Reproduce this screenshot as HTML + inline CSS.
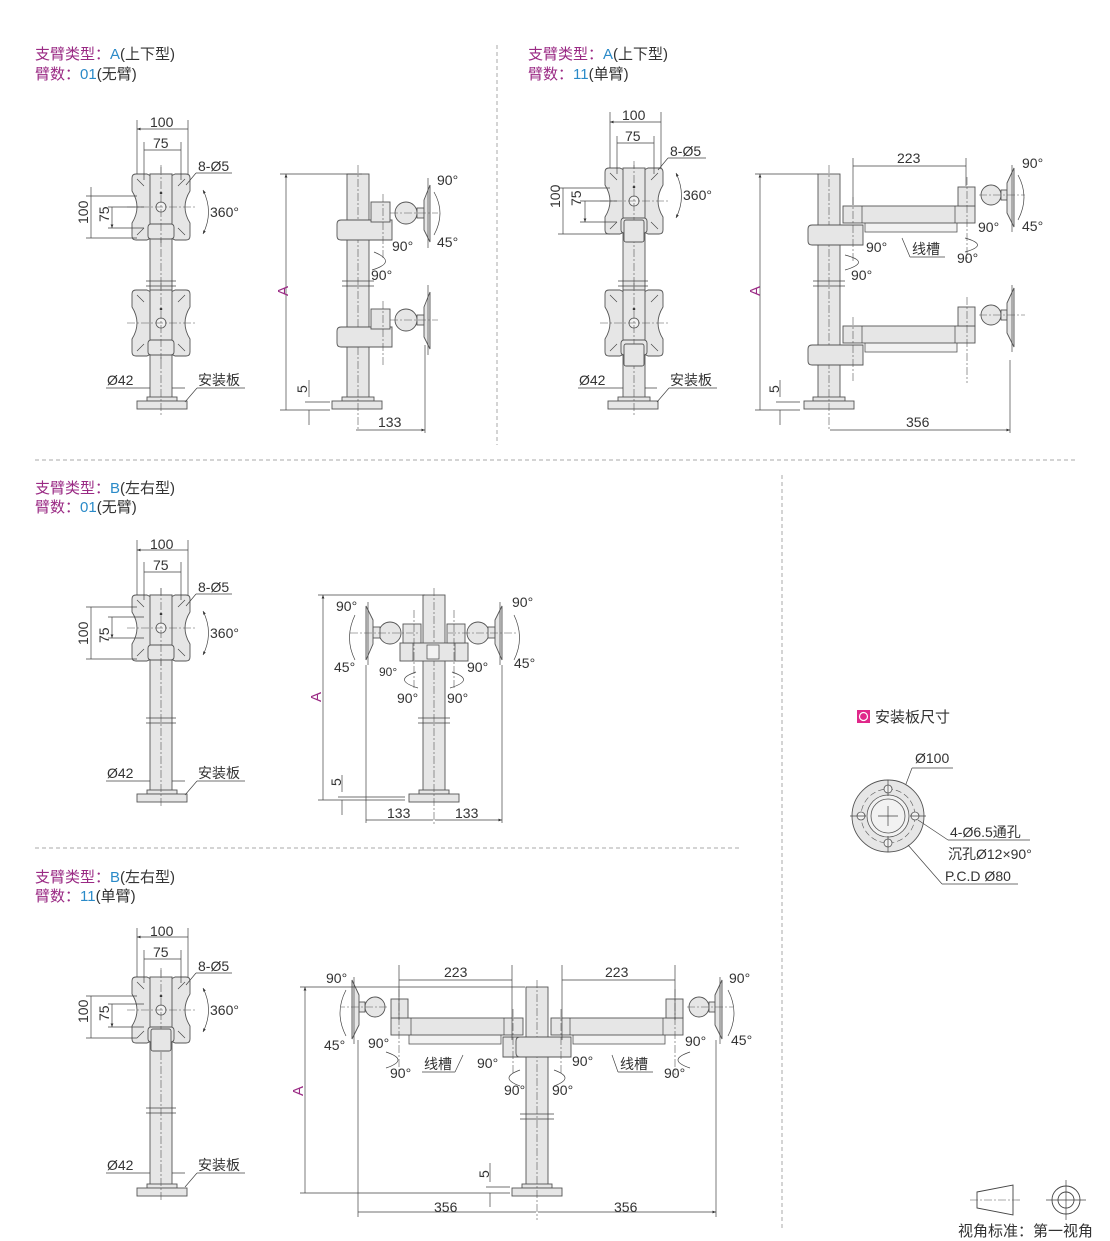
<!DOCTYPE html>
<html><head><meta charset="utf-8"><style>
html,body{margin:0;padding:0;background:#fff;}
svg{display:block;font-family:"Liberation Sans","Noto Sans CJK SC",sans-serif;}
.g{fill:#e6e6e6;stroke:#555;stroke-width:0.9}
.gl{fill:#f2f2f2;stroke:#555;stroke-width:0.8}
.c{stroke:#555;stroke-width:0.6;stroke-dasharray:8 2 2 2;fill:none}
.d{stroke:#444;stroke-width:0.7;fill:none}
.da{stroke:#444;stroke-width:0.7;fill:none;marker-start:url(#a);marker-end:url(#a)}
.t{font-size:14px;fill:#333}
.h{font-size:15px;fill:#333}
.sep{stroke:#aaa;stroke-width:1;stroke-dasharray:4 3}
.m{fill:#9a2a84}.b{fill:#2a8ac8}
</style></head><body>
<svg width="1110" height="1241" viewBox="0 0 1110 1241" xmlns="http://www.w3.org/2000/svg">
<defs>
<marker id="a" viewBox="0 0 10 10" refX="10" refY="5" markerWidth="7" markerHeight="5" orient="auto-start-reverse"><path d="M0,1 L10,5 L0,9Z" fill="#333"/></marker>
<g id="fp">
<path class="g" d="M-25,-33 L-14,-33 Q0,-25 14,-33 L25,-33 Q29,-33 29,-29 L29,-16 Q19,0 29,16 L29,29 Q29,33 25,33 L14,33 Q0,25 -14,33 L-25,33 Q-29,33 -29,29 L-29,16 Q-19,0 -29,-16 L-29,-29 Q-29,-33 -25,-33Z"/>
<rect class="g" x="-11" y="-33" width="22" height="50"/>
<circle class="gl" cx="0" cy="0" r="5"/><circle cx="0" cy="-14" r="1.3" fill="#333"/>
<path class="d" d="M-24,-28 L-17,-21 M24,-28 L17,-21 M-24,28 L-17,21 M24,28 L17,21"/>
<rect class="g" x="-13" y="17" width="26" height="15" rx="3"/>
<path class="c" d="M0,-40 V40 M-34,0 H34"/>
</g>
<g id="sh">
<path class="g" d="M-17,-10 H34 V10 H-17 Q-21,10 -21,6 V-6 Q-21,-10 -17,-10Z"/>
<rect class="g" x="13" y="-28" width="19" height="20"/>
<circle class="g" cx="48" cy="-17" r="11"/>
<rect class="g" x="59" y="-22" width="7" height="10"/>
<path class="g" d="M66,-30 L72,-45 L72,12 L66,0Z"/>
<path class="d" d="M70,-52 V18"/>
<path class="c" d="M25,-36 V30 M32,-17 H80"/>
</g>
<g id="la">
<path class="g" d="M-17,-10 H34 V10 H-17 Q-21,10 -21,6 V-6 Q-21,-10 -17,-10Z"/>
<rect class="gl" x="36" y="-13" width="92" height="10"/>
<rect class="g" x="14" y="-29" width="132" height="17"/>
<path class="d" d="M33,-29 V-12 M126,-29 V-12"/>
<rect class="g" x="129" y="-48" width="17" height="19"/>
<circle class="g" cx="162" cy="-40" r="10"/>
<rect class="g" x="172" y="-45" width="6" height="10"/>
<path class="g" d="M178,-52 L185,-67 L185,-8 L178,-22Z"/>
<path class="d" d="M183,-70 V-3"/>
<path class="c" d="M24,-38 V28 M138,-58 V28 M150,-40 H196"/>
</g>
</defs>

<path class="sep" d="M497,45 V445 M35,460 H1075 M782,475 V1230 M35,848 H740"/>

<text x="35" y="59" class="h"><tspan class="m">支臂类型：</tspan><tspan class="b">A</tspan>(上下型)</text>
<text x="35" y="79" class="h"><tspan class="m">臂数：</tspan><tspan class="b">01</tspan>(无臂)</text>
<text x="528" y="59" class="h"><tspan class="m">支臂类型：</tspan><tspan class="b">A</tspan>(上下型)</text>
<text x="528" y="79" class="h"><tspan class="m">臂数：</tspan><tspan class="b">11</tspan>(单臂)</text>
<text x="35" y="493" class="h"><tspan class="m">支臂类型：</tspan><tspan class="b">B</tspan>(左右型)</text>
<text x="35" y="512" class="h"><tspan class="m">臂数：</tspan><tspan class="b">01</tspan>(无臂)</text>
<text x="35" y="882" class="h"><tspan class="m">支臂类型：</tspan><tspan class="b">B</tspan>(左右型)</text>
<text x="35" y="901" class="h"><tspan class="m">臂数：</tspan><tspan class="b">11</tspan>(单臂)</text>

<g>
<rect class="g" x="150" y="174" width="22" height="224"/>
<rect class="g" x="147" y="397" width="30" height="4"/><rect class="g" x="137" y="401" width="50" height="8"/>
<path class="c" d="M161,165 V415"/>
<path class="d" d="M146,281 H176 M146,286 H176"/>
<use href="#fp" x="161" y="207"/><use href="#fp" x="161" y="323"/>
<path class="d" d="M137,174 V120 M188,174 V120 M144,180 V142 M181,180 V142 M137,196 H86 M144,207 H108 M144,228 H108 M137,238 H86"/>
<path class="da" d="M137,129 H188 M144,150 H181 M91,187 V238 M112,207 V228"/>
<text x="150" y="127" class="t">100</text><text x="153" y="148" class="t">75</text>
<text x="198" y="171" class="t">8-Ø5</text><path class="d" d="M196,173 H232 M196,173 L186,185"/>
<text x="210" y="217" class="t">360°</text><path class="d" d="M203,190 Q214,212 203,234" marker-start="url(#a)" marker-end="url(#a)"/>
<text transform="translate(88,224) rotate(-90)" class="t">100</text><text transform="translate(109,222) rotate(-90)" class="t">75</text>
<text x="107" y="385" class="t">Ø42</text><path class="d" d="M106,388 H150 M172,388 H185"/>
<text x="198" y="385" class="t">安装板</text><path class="d" d="M197,388 H245 M197,388 L185,402"/>
</g>
<g>
<rect class="g" x="347" y="174" width="22" height="224"/>
<rect class="g" x="342" y="397" width="32" height="4"/><rect class="g" x="332" y="401" width="50" height="8"/>
<path class="c" d="M358,165 V430"/><path class="d" d="M342,281 H374 M342,286 H374"/>
<use href="#sh" x="358" y="230"/><use href="#sh" x="358" y="337"/>
<path class="d" d="M280,174 H362 M280,410 H330 M304,410 H325"/>
<path class="da" d="M286,174 V410 M356,430 H425"/>
<path class="d" d="M425,345 V433 M309,380 V397 M309,410 V425" /><path class="d" d="M305,402 H330"/>
<text transform="translate(288,296) rotate(-90)" class="h m">A</text>
<text transform="translate(307,393) rotate(-90)" class="t">5</text>
<text x="378" y="427" class="t">133</text>
<text x="392" y="251" class="t">90°</text><text x="371" y="280" class="t">90°</text>
<path class="d" d="M374,252 Q398,262 372,270"/>
<text x="437" y="185" class="t">90°</text><text x="437" y="247" class="t">45°</text>
<path class="d" d="M434,192 Q446,213 434,235"/>
</g>

<g>
<rect class="g" x="623" y="174" width="22" height="224"/>
<rect class="g" x="618" y="397" width="32" height="4"/><rect class="g" x="608" y="401" width="50" height="8"/>
<path class="c" d="M634,165 V415"/><path class="d" d="M618,281 H648 M618,286 H648"/>
<use href="#fp" x="634" y="201"/><use href="#fp" x="634" y="323"/>
<rect class="g" x="624" y="220" width="20" height="22" rx="2"/><rect class="g" x="624" y="344" width="20" height="22" rx="2"/>
<path class="d" d="M610,168 V112 M661,168 V112 M617,174 V136 M654,174 V136 M610,188 H558 M617,201 H580 M617,222 H580 M610,234 H558"/>
<path class="da" d="M610,122 H661 M617,143 H654 M563,188 V234 M585,201 V222"/>
<text x="622" y="120" class="t">100</text><text x="625" y="141" class="t">75</text>
<text x="670" y="156" class="t">8-Ø5</text><path class="d" d="M668,158 H706 M668,158 L658,170"/>
<text x="683" y="200" class="t">360°</text><path class="d" d="M676,173 Q687,196 676,218" marker-start="url(#a)" marker-end="url(#a)"/>
<text transform="translate(560,208) rotate(-90)" class="t">100</text><text transform="translate(581,206) rotate(-90)" class="t">75</text>
<text x="579" y="385" class="t">Ø42</text><path class="d" d="M578,388 H623 M645,388 H657"/>
<text x="670" y="385" class="t">安装板</text><path class="d" d="M669,388 H717 M669,388 L657,402"/>
</g>
<g>
<rect class="g" x="818" y="174" width="22" height="224"/>
<rect class="g" x="813" y="397" width="32" height="4"/><rect class="g" x="804" y="401" width="50" height="8"/>
<path class="c" d="M829,165 V430"/><path class="d" d="M813,281 H845 M813,286 H845"/>
<use href="#la" x="829" y="235"/><use href="#la" x="829" y="355"/>
<path class="d" d="M755,174 H818 M755,410 H800 M853,158 V205 M966,158 V186"/>
<path class="da" d="M760,174 V410 M853,166 H966 M830,430 H1010"/>
<path class="d" d="M1010,360 V433 M780,380 V397 M780,410 V425 M776,402 H800"/>
<text transform="translate(760,296) rotate(-90)" class="h m">A</text>
<text transform="translate(779,393) rotate(-90)" class="t">5</text>
<text x="897" y="163" class="t">223</text><text x="906" y="427" class="t">356</text>
<text x="1022" y="168" class="t">90°</text><text x="1022" y="231" class="t">45°</text>
<path class="d" d="M1018,175 Q1030,197 1018,220"/>
<text x="866" y="252" class="t">90°</text><text x="851" y="280" class="t">90°</text>
<text x="978" y="232" class="t">90°</text><text x="957" y="263" class="t">90°</text>
<path class="d" d="M845,255 Q872,262 845,270 M965,238 Q990,245 965,252"/>
<text x="912" y="254" class="t">线槽</text><path class="d" d="M910,257 H945 M910,257 L902,238"/>
</g>

<g>
<rect class="g" x="150" y="595" width="22" height="197"/>
<rect class="g" x="147" y="790" width="30" height="4"/><rect class="g" x="137" y="794" width="50" height="8"/>
<path class="c" d="M161,588 V808"/><path class="d" d="M146,718 H176 M146,723 H176"/>
<use href="#fp" x="161" y="628"/>
<path class="d" d="M137,595 V540 M188,595 V540 M144,600 V562 M181,600 V562 M137,607 H86 M144,617 H108 M144,638 H108 M137,659 H86"/>
<path class="da" d="M137,550 H188 M144,572 H181 M91,607 V659 M112,617 V638"/>
<text x="150" y="549" class="t">100</text><text x="153" y="570" class="t">75</text>
<text x="198" y="592" class="t">8-Ø5</text><path class="d" d="M196,594 H232 M196,594 L186,606"/>
<text x="210" y="638" class="t">360°</text><path class="d" d="M203,611 Q214,633 203,655" marker-start="url(#a)" marker-end="url(#a)"/>
<text transform="translate(88,645) rotate(-90)" class="t">100</text><text transform="translate(109,643) rotate(-90)" class="t">75</text>
<text x="107" y="778" class="t">Ø42</text><path class="d" d="M106,781 H150 M172,781 H185"/>
<text x="198" y="778" class="t">安装板</text><path class="d" d="M197,781 H245 M197,781 L185,795"/>
</g>
<g>
<rect class="g" x="423" y="595" width="22" height="197"/>
<rect class="g" x="419" y="790" width="30" height="4"/><rect class="g" x="409" y="794" width="50" height="8"/>
<path class="c" d="M434,588 V825"/><path class="d" d="M418,718 H450 M418,723 H450"/>
<rect class="g" x="400" y="643" width="68" height="18"/>
<path class="d" d="M413,643 V661 M455,643 V661"/><rect class="gl" x="427" y="645" width="12" height="14"/>
<rect class="g" x="403" y="624" width="18" height="19"/><rect class="g" x="447" y="624" width="18" height="19"/>
<circle class="g" cx="390" cy="633" r="11"/><circle class="g" cx="478" cy="633" r="11"/>
<rect class="g" x="373" y="627" width="7" height="11"/><rect class="g" x="488" y="627" width="7" height="11"/>
<path class="g" d="M373,620 L366,606 L366,660 L373,644Z"/><path class="g" d="M495,620 L502,606 L502,660 L495,644Z"/>
<path class="d" d="M368,602 V665 M500,602 V665"/>
<path class="c" d="M350,633 H420 M448,633 H518 M414,610 V690 M454,610 V690"/>
<path class="d" d="M318,595 H425 M318,800 H405"/>
<path class="da" d="M323,595 V800 M366,820 H433 M435,820 H502"/>
<path class="d" d="M366,665 V823 M502,665 V823 M342,775 V792 M342,800 V815 M338,797 H405"/>
<text transform="translate(321,702) rotate(-90)" class="h m">A</text>
<text transform="translate(341,786) rotate(-90)" class="t">5</text>
<text x="387" y="818" class="t">133</text><text x="455" y="818" class="t">133</text>
<text x="336" y="611" class="t">90°</text><text x="334" y="672" class="t">45°</text>
<text x="512" y="607" class="t">90°</text><text x="514" y="668" class="t">45°</text>
<path class="d" d="M355,615 Q344,638 355,660 M514,615 Q525,638 514,660"/>
<text x="379" y="676" class="t" style="font-size:12px">90°</text><text x="467" y="672" class="t">90°</text>
<text x="397" y="703" class="t">90°</text><text x="447" y="703" class="t">90°</text>
<path class="d" d="M416,672 Q392,680 418,688 M452,672 Q476,680 450,688"/>
</g>

<g>
<rect class="g" x="150" y="978" width="22" height="207"/>
<rect class="g" x="147" y="1184" width="30" height="4"/><rect class="g" x="137" y="1188" width="50" height="8"/>
<path class="c" d="M161,968 V1200"/><path class="d" d="M146,1108 H176 M146,1113 H176"/>
<use href="#fp" x="161" y="1010"/>
<rect class="g" x="151" y="1029" width="20" height="22" rx="2"/>
<path class="d" d="M137,977 V928 M188,977 V928 M144,983 V950 M181,983 V950 M137,996 H86 M144,1004 H108 M144,1027 H108 M137,1038 H86"/>
<path class="da" d="M137,937 H188 M144,959 H181 M91,996 V1038 M112,1004 V1027"/>
<text x="150" y="936" class="t">100</text><text x="153" y="957" class="t">75</text>
<text x="198" y="971" class="t">8-Ø5</text><path class="d" d="M196,973 H232 M196,973 L186,985"/>
<text x="210" y="1015" class="t">360°</text><path class="d" d="M203,988 Q214,1010 203,1032" marker-start="url(#a)" marker-end="url(#a)"/>
<text transform="translate(88,1023) rotate(-90)" class="t">100</text><text transform="translate(109,1021) rotate(-90)" class="t">75</text>
<text x="107" y="1170" class="t">Ø42</text><path class="d" d="M106,1173 H150 M172,1173 H185"/>
<text x="198" y="1170" class="t">安装板</text><path class="d" d="M197,1173 H245 M197,1173 L185,1187"/>
</g>
<g>
<rect class="g" x="526" y="987" width="22" height="198"/>
<rect class="g" x="522" y="1184" width="30" height="4"/><rect class="g" x="512" y="1188" width="50" height="8"/>
<path class="c" d="M537,980 V1220"/><path class="d" d="M520,1114 H554 M520,1119 H554"/>
<use href="#la" transform="translate(537,1047) scale(-1,1)"/>
<use href="#la" x="537" y="1047"/>
<path class="d" d="M300,987 H525 M300,1193 H510 M399,965 V1020 M512,965 V1040 M562,965 V1040 M675,965 V1020 M358,1040 V1217 M716,1040 V1217"/>
<path class="da" d="M305,987 V1193 M399,980 H512 M562,980 H675 M358,1212 H536 M538,1212 H716"/>
<path class="d" d="M490,1163 V1182 M490,1193 V1207 M486,1187 H510"/>
<text transform="translate(303,1096) rotate(-90)" class="h m">A</text>
<text transform="translate(489,1178) rotate(-90)" class="t">5</text>
<text x="444" y="977" class="t">223</text><text x="605" y="977" class="t">223</text>
<text x="434" y="1212" class="t">356</text><text x="614" y="1212" class="t">356</text>
<text x="326" y="983" class="t">90°</text><text x="324" y="1050" class="t">45°</text>
<text x="729" y="983" class="t">90°</text><text x="731" y="1045" class="t">45°</text>
<path class="d" d="M346,990 Q334,1013 346,1036 M728,990 Q740,1013 728,1036"/>
<text x="368" y="1048" class="t">90°</text><text x="390" y="1078" class="t">90°</text>
<text x="477" y="1068" class="t">90°</text><text x="504" y="1095" class="t">90°</text>
<text x="572" y="1066" class="t">90°</text><text x="552" y="1095" class="t">90°</text>
<text x="685" y="1046" class="t">90°</text><text x="664" y="1078" class="t">90°</text>
<path class="d" d="M386,1052 Q410,1060 386,1068 M520,1070 Q498,1078 520,1086 M554,1070 Q576,1078 554,1086 M690,1052 Q666,1060 690,1068"/>
<text x="424" y="1069" class="t">线槽</text><path class="d" d="M422,1072 H455 M455,1072 L463,1055"/>
<text x="620" y="1069" class="t">线槽</text><path class="d" d="M618,1072 H653 M618,1072 L612,1055"/>
</g>

<rect x="857" y="710" width="13" height="13" fill="#e0288a"/><circle cx="863.5" cy="716.5" r="4" fill="none" stroke="#fff" stroke-width="1.2"/>
<text x="875" y="722" class="h">安装板尺寸</text>
<g>
<circle class="g" cx="888" cy="816" r="36"/>
<circle cx="888" cy="816" r="27" fill="none" stroke="#555" stroke-width="0.6" stroke-dasharray="6 3"/>
<circle class="gl" cx="888" cy="816" r="21"/><circle class="gl" cx="888" cy="816" r="17"/>
<circle class="gl" cx="888" cy="789" r="4"/><circle class="gl" cx="888" cy="843" r="4"/>
<circle class="gl" cx="861" cy="816" r="4"/><circle class="gl" cx="915" cy="816" r="4"/>
<path class="d" d="M888,780 V796 M888,836 V852 M850,816 H866 M910,816 H926 M878,816 H898 M888,806 V826"/>
<path class="d" d="M912,768 H953 M912,768 L906,784" /><text x="915" y="763" class="t">Ø100</text>
<path class="d" d="M948,840 H1030 M948,840 L918,820"/><text x="950" y="837" class="t">4-Ø6.5通孔</text>
<text x="948" y="859" class="t">沉孔Ø12×90°</text>
<path class="d" d="M942,884 H1018 M942,884 L908,845"/><text x="945" y="881" class="t">P.C.D Ø80</text>
</g>

<path d="M977,1192 L1013,1185 L1013,1215 L977,1208Z" fill="none" stroke="#444" stroke-width="0.9"/>
<path class="c" d="M970,1200 H1020"/>
<circle cx="1066" cy="1200" r="14" fill="none" stroke="#444" stroke-width="0.9"/>
<circle cx="1066" cy="1200" r="8" fill="none" stroke="#444" stroke-width="0.9"/>
<path class="d" d="M1046,1200 H1086 M1066,1180 V1220"/>
<text x="958" y="1236" class="h">视角标准：第一视角</text>
</svg>
</body></html>
